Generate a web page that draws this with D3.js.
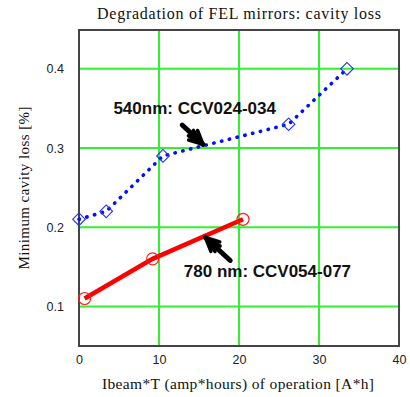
<!DOCTYPE html>
<html><head><meta charset="utf-8">
<script src="https://cdn.jsdelivr.net/npm/d3@7"></script>
<style>body{margin:0;background:#fff}svg{display:block}</style>
</head><body>
<svg id="c" width="410" height="397"></svg>
<script>
const xTicks = [0, 10, 20, 30, 40];
const yTicks = [0.1, 0.2, 0.3, 0.4];
const blueX = [0, 3.4, 10.5, 26.2, 33.5];
const blueY = [0.21, 0.22, 0.29, 0.33, 0.40];
const redX = [0.7, 9.2, 20.5];
const redY = [0.11, 0.16, 0.21];
const title = "Degradation of FEL mirrors: cavity loss";
const xLabel = "Ibeam*T (amp*hours) of operation [A*h]";
const yLabel = "Minimum cavity loss [%]";
const notes = [
  {text: "540nm: CCV024-034", at: [4.3, 0.343], tail: [12.9, 0.329], tip: [15.5, 0.3045]},
  {text: "780 nm: CCV054-077", at: [13.1, 0.137], tail: [18.9, 0.158], tip: [15.8, 0.187]}
];

const svg = d3.select("#c");
const L = 79, R = 399, T = 30, B = 346;
const x = d3.scaleLinear().domain([0, 40]).range([L, R]);
const y = d3.scaleLinear().domain([0.1, 0.4]).range([306.4, 68.8]);

// grid
svg.append("g").selectAll("line").data(xTicks.slice(1, -1)).join("line")
  .attr("x1", d => x(d)).attr("x2", d => x(d)).attr("y1", T).attr("y2", B)
  .attr("stroke", "#33f033").attr("stroke-width", 2);
svg.append("g").selectAll("line").data(yTicks).join("line")
  .attr("y1", d => y(d)).attr("y2", d => y(d)).attr("x1", L).attr("x2", R)
  .attr("stroke", "#33f033").attr("stroke-width", 2);

// frame
svg.append("rect").attr("x", L).attr("y", T).attr("width", R - L).attr("height", B - T)
  .attr("fill", "none").attr("stroke", "#444").attr("stroke-width", 2);

// axes
const xa = svg.append("g").attr("transform", `translate(0,${B})`)
  .call(d3.axisBottom(x).tickValues(xTicks).tickSize(0).tickPadding(9).tickFormat(d3.format("d")));
const ya = svg.append("g").attr("transform", `translate(${L},0)`)
  .call(d3.axisLeft(y).tickValues(yTicks).tickSize(0).tickPadding(15).tickFormat(d3.format(".1f")));
[xa, ya].forEach(a => {
  a.select(".domain").remove();
  a.selectAll("text").attr("font-family", "Liberation Sans, Arial, sans-serif").attr("font-size", 12.5).attr("fill", "#222");
});

// titles
svg.append("text").attr("x", 239).attr("y", 19).attr("text-anchor", "middle")
  .attr("font-family", "Liberation Serif, Times New Roman, serif").attr("font-size", 16)
  .attr("textLength", 284).attr("lengthAdjust", "spacing").attr("fill", "#111").text(title);
svg.append("text").attr("x", 238).attr("y", 389).attr("text-anchor", "middle")
  .attr("font-family", "Liberation Serif, Times New Roman, serif").attr("font-size", 15.5)
  .attr("textLength", 272).attr("lengthAdjust", "spacing").attr("fill", "#111").text(xLabel);
svg.append("text").attr("transform", "translate(29,188) rotate(-90)").attr("text-anchor", "middle")
  .attr("font-family", "Liberation Serif, Times New Roman, serif").attr("font-size", 15)
  .attr("textLength", 163).attr("lengthAdjust", "spacing").attr("fill", "#111").text(yLabel);

// series
const blue = blueX.map((d, i) => [d, blueY[i]]);
const red = redX.map((d, i) => [d, redY[i]]);
const line = d3.line().x(d => x(d[0])).y(d => y(d[1]));

svg.append("path").attr("d", line(red)).attr("fill", "none")
  .attr("stroke", "#ff0000").attr("stroke-width", 4.5);
svg.append("g").selectAll("circle").data(red).join("circle")
  .attr("cx", d => x(d[0])).attr("cy", d => y(d[1])).attr("r", 6)
  .attr("fill", "none").attr("stroke", "#ff2020").attr("stroke-width", 1.2);

svg.append("path").attr("d", line(blue)).attr("fill", "none")
  .attr("stroke", "#0010ff").attr("stroke-width", 3.6).attr("stroke-linecap", "round")
  .attr("stroke-dasharray", "0.4 7.6");
svg.append("g").selectAll("path").data(blue).join("path")
  .attr("d", d3.symbol().type(d3.symbolSquare).size(80))
  .attr("transform", d => `translate(${x(d[0])},${y(d[1])}) rotate(45)`)
  .attr("fill", "none").attr("stroke", "#2030ff").attr("stroke-width", 1.1);

// annotations
notes.forEach(n => {
  svg.append("text").attr("x", x(n.at[0])).attr("y", y(n.at[1]))
    .attr("font-family", "Liberation Sans, Arial, sans-serif").attr("font-weight", "bold")
    .attr("font-size", 17).attr("fill", "#111").text(n.text);
  const x0 = x(n.tail[0]), y0 = y(n.tail[1]), x1 = x(n.tip[0]), y1 = y(n.tip[1]);
  const ang = Math.atan2(y1 - y0, x1 - x0);
  const g = svg.append("g").attr("stroke", "#000").attr("stroke-linecap", "round").attr("fill", "none");
  g.append("line").attr("x1", x0).attr("y1", y0).attr("x2", x1).attr("y2", y1).attr("stroke-width", 5);
  [-0.45, -0.22, 0, 0.22, 0.45].forEach(a => {
    const len = Math.abs(a) > 0.3 ? 15 : 17;
    g.append("line").attr("x1", x1).attr("y1", y1)
      .attr("x2", x1 - len * Math.cos(ang + a)).attr("y2", y1 - len * Math.sin(ang + a))
      .attr("stroke-width", 3.5);
  });
});
</script>
</body></html>
